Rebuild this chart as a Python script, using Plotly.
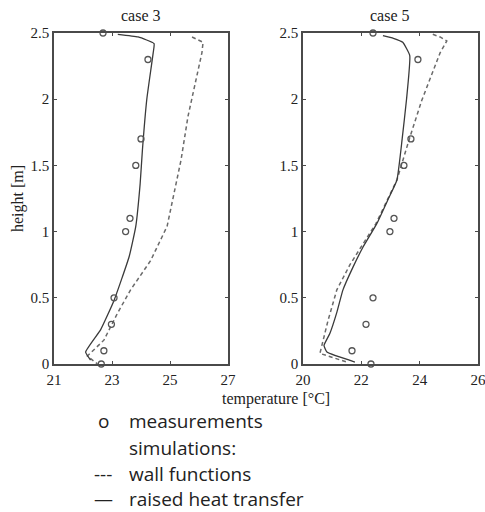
import plotly.graph_objects as go

# ---- data ----
meas_h = [2.5, 2.3, 1.7, 1.5, 1.1, 1.0, 0.5, 0.3, 0.1, 0.0]
case3_meas_T = [22.69, 24.24, 24.0, 23.82, 23.62, 23.47, 23.07, 22.98, 22.72, 22.63]
case5_meas_T = [22.4, 23.94, 23.7, 23.46, 23.12, 22.98, 22.4, 22.16, 21.68, 22.33]

case3_solid_h = [2.49, 2.47, 2.42, 2.35, 2.0, 1.62, 1.36, 1.04, 0.81, 0.48, 0.26, 0.09, 0.03]
case3_solid_T = [23.2, 23.9, 24.45, 24.42, 24.2, 24.05, 23.97, 23.82, 23.59, 23.07, 22.61, 22.09, 22.26]
case3_dash_h = [2.47, 2.43, 2.35, 2.05, 1.87, 1.54, 1.29, 1.04, 0.78, 0.56, 0.38, 0.18, 0.06, 0.0]
case3_dash_T = [25.76, 26.14, 26.1, 25.8, 25.62, 25.38, 25.14, 24.9, 24.33, 23.64, 23.18, 22.72, 22.15, 22.5]

case5_solid_h = [2.48, 2.46, 2.43, 2.33, 2.0, 1.7, 1.39, 1.24, 1.06, 0.88, 0.73, 0.56, 0.39, 0.23, 0.14, 0.09, 0.015]
case5_solid_T = [22.74, 23.1, 23.42, 23.66, 23.55, 23.4, 23.22, 22.91, 22.53, 22.05, 21.71, 21.37, 21.16, 20.92, 20.72, 20.82, 21.78]
case5_dash_h = [2.49, 2.47, 2.44, 2.35, 1.99, 1.71, 1.39, 1.06, 0.88, 0.75, 0.56, 0.33, 0.08, 0.015]
case5_dash_T = [24.45, 24.7, 24.93, 24.7, 24.07, 23.66, 23.22, 22.5, 21.98, 21.61, 21.16, 20.86, 20.58, 21.5]

x1_ticks = [21, 23, 25, 27]
x2_ticks = [20, 22, 24, 26]
y_ticks = [0, 0.5, 1, 1.5, 2, 2.5]
y_ticklabels = ["0", "0.5", "1", "1.5", "2", "2.5"]

W, H = 485, 512
col = "#4a4a4a"
serif = "Liberation Serif"
sans = "Open Sans"


def px(x):
    return x / W


def py(y):
    return 1 - y / H


fig = go.Figure()


def add_panel(xa, ya, mT, sT, sH, dT, dH):
    fig.add_trace(go.Scatter(x=dT, y=dH, mode="lines", xaxis=xa, yaxis=ya,
                             line=dict(color="#6a6a6a", width=1.5, dash="4px,3px"),
                             showlegend=False))
    fig.add_trace(go.Scatter(x=sT, y=sH, mode="lines", xaxis=xa, yaxis=ya,
                             line=dict(color="#3a3a3a", width=1.3, shape="spline", smoothing=0.4),
                             showlegend=False))
    fig.add_trace(go.Scatter(x=mT, y=meas_h, mode="markers", xaxis=xa, yaxis=ya,
                             marker=dict(symbol="circle-open", size=6, color="#555",
                                         line=dict(width=1.3, color="#555")),
                             showlegend=False, cliponaxis=False))


add_panel("x", "y", case3_meas_T, case3_solid_T, case3_solid_h, case3_dash_T, case3_dash_h)
add_panel("x2", "y2", case5_meas_T, case5_solid_T, case5_solid_h, case5_dash_T, case5_dash_h)

axis_common = dict(showgrid=False, zeroline=False, showline=True, mirror="ticks",
                   linecolor=col, linewidth=1.5, ticks="inside", ticklen=3,
                   tickcolor=col, automargin=False, ticklabeloverflow="allow",
                   tickfont=dict(family=serif, size=15, color="#222"))
ydom = [py(364), py(33)]
fig.update_layout(
    width=W, height=H, margin=dict(l=0, r=0, t=0, b=0, autoexpand=False),
    paper_bgcolor="white", plot_bgcolor="white",
    xaxis=dict(domain=[px(54), px(228)], range=[21, 27], tickvals=x1_ticks,
               ticklabelstandoff=1, **axis_common),
    yaxis=dict(domain=ydom, range=[0, 2.5], tickvals=y_ticks, ticktext=y_ticklabels,
               ticklabelstandoff=0, **axis_common),
    xaxis2=dict(domain=[px(303), px(478)], range=[20, 26], tickvals=x2_ticks,
                anchor="y2", ticklabelstandoff=1, **axis_common),
    yaxis2=dict(domain=ydom, range=[0, 2.5], tickvals=y_ticks, ticktext=y_ticklabels,
                anchor="x2", ticklabelstandoff=0, **axis_common),
)


def label(text, x, y, font, xanchor="center", angle=0):
    return dict(text=text, x=px(x), y=py(y), xref="paper", yref="paper",
                showarrow=False, xanchor=xanchor, yanchor="middle",
                textangle=angle, font=font)


tfont = dict(family=serif, size=16, color="#222")
lfont = dict(family=sans, size=19, color="#222")
ann = [
    label("case 3", 141, 15, tfont),
    label("case 5", 390, 15, tfont),
    label("height [m]", 18, 199, tfont, angle=-90),
    label("temperature [°C]", 276, 399, tfont),
]

legend_rows = [("o", "measurements", 421), ("", "simulations:", 448),
               ("---", "wall functions", 474), ("—", "raised heat transfer", 499)]
for sym, txt, yy in legend_rows:
    if sym:
        ann.append(label(sym, 103, yy, lfont))
    ann.append(label(txt, 127, yy, lfont, xanchor="left"))
fig.update_layout(annotations=ann)

fig.write_html("out.html")
